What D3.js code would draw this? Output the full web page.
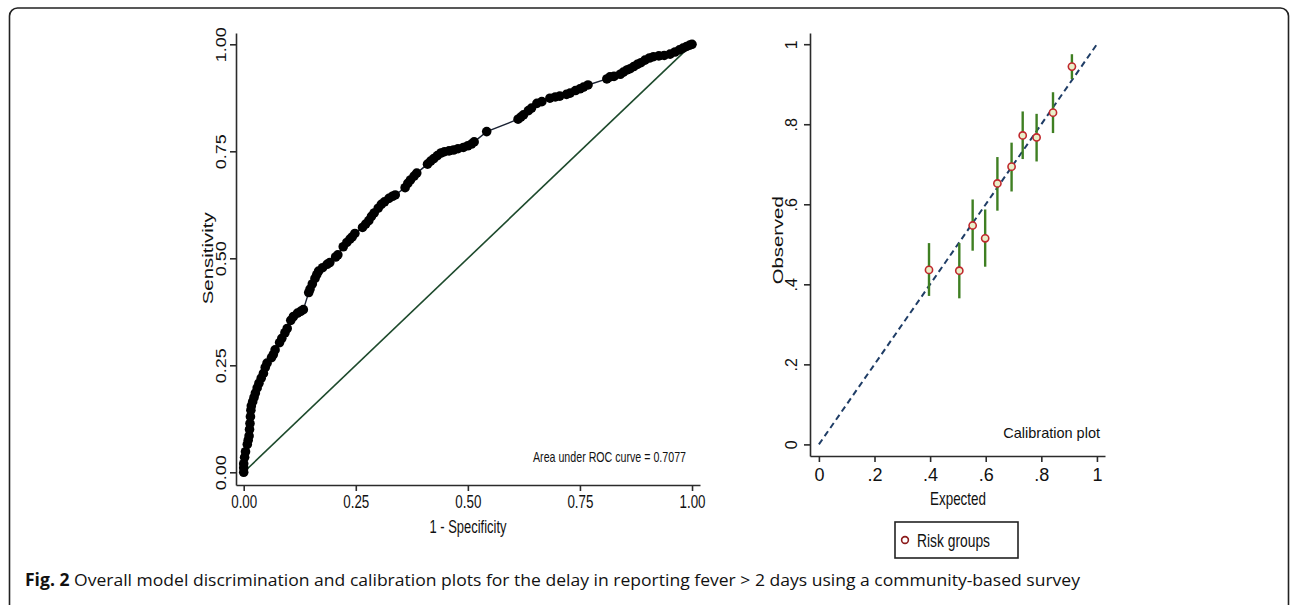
<!DOCTYPE html>
<html>
<head>
    <title>roc-calibration</title>
    <meta charset="utf-8">
    <style type="text/css">
        body { margin: 0; background: #fff; }
        .axis path, .axis line {
            fill: none;
            stroke: #2b2b2b;
            stroke-width: 1.6px;
        }
        .axis text {
            font-family: "Liberation Sans", Arial, sans-serif;
            fill: #111;
        }
        .narrow { font-family: "Liberation Sans", Arial, sans-serif; fill: #111; }
        .wide { font-family: "Liberation Sans", Arial, sans-serif; fill: #111; }
    </style>
</head>
<body>
<script type="text/javascript" src="https://cdn.jsdelivr.net/npm/d3@7"></script>
<script type="text/javascript">
    /*=========DATA=========*/
    // ROC curve points: [1 - specificity, sensitivity]
    var rocFpr = [0, 0, 0, 0.002, 0.004, 0.008, 0.01, 0.012, 0.013, 0.014, 0.015, 0.016, 0.017, 0.02, 0.023,
        0.026, 0.03, 0.034, 0.039, 0.044, 0.048, 0.052, 0.062, 0.066, 0.07, 0.08, 0.085, 0.092, 0.097, 0.105,
        0.111, 0.12, 0.127, 0.133, 0.145, 0.148, 0.153, 0.159, 0.163, 0.167, 0.176, 0.186, 0.192, 0.205, 0.21,
        0.222, 0.23, 0.237, 0.242, 0.248, 0.265, 0.272, 0.279, 0.285, 0.291, 0.3, 0.307, 0.314, 0.324, 0.332,
        0.338, 0.36, 0.366, 0.372, 0.38, 0.386, 0.41, 0.417, 0.424, 0.432, 0.44, 0.448, 0.458, 0.468, 0.478,
        0.49, 0.5, 0.508, 0.514, 0.542, 0.612, 0.618, 0.624, 0.635, 0.642, 0.654, 0.665, 0.683, 0.695, 0.705,
        0.72, 0.728, 0.74, 0.75, 0.758, 0.768, 0.81, 0.817, 0.826, 0.84, 0.847, 0.855, 0.862, 0.87, 0.878,
        0.886, 0.895, 0.905, 0.914, 0.926, 0.938, 0.951, 0.962, 0.972, 0.98, 0.988, 0.995, 1];
    var rocTpr = [0, 0.01, 0.02, 0.035, 0.048, 0.065, 0.075, 0.085, 0.1, 0.114, 0.13, 0.145, 0.155, 0.165, 0.175,
        0.185, 0.197, 0.208, 0.22, 0.231, 0.245, 0.255, 0.268, 0.275, 0.286, 0.303, 0.313, 0.326, 0.336, 0.355,
        0.364, 0.372, 0.376, 0.38, 0.42, 0.428, 0.44, 0.453, 0.462, 0.47, 0.478, 0.486, 0.49, 0.503, 0.508,
        0.527, 0.537, 0.545, 0.55, 0.558, 0.572, 0.58, 0.588, 0.598, 0.606, 0.617, 0.626, 0.632, 0.64, 0.645,
        0.648, 0.665, 0.675, 0.683, 0.692, 0.699, 0.72, 0.727, 0.733, 0.74, 0.746, 0.749, 0.751, 0.753, 0.756,
        0.759, 0.763, 0.767, 0.772, 0.796, 0.825, 0.83, 0.835, 0.845, 0.851, 0.862, 0.866, 0.874, 0.877, 0.879,
        0.883, 0.886, 0.892, 0.896, 0.9, 0.905, 0.919, 0.924, 0.925, 0.93, 0.935, 0.94, 0.943, 0.948, 0.953,
        0.957, 0.963, 0.968, 0.971, 0.973, 0.974, 0.977, 0.982, 0.987, 0.991, 0.995, 0.998, 1];
    var rocTicks = [0, 0.25, 0.5, 0.75, 1];
    var aucText = 'Area under ROC curve = 0.7077';

    // calibration: risk groups
    var calExpected = [0.396, 0.505, 0.553, 0.598, 0.642, 0.693, 0.733, 0.783, 0.842, 0.91];
    var calObserved = [0.436, 0.434, 0.547, 0.515, 0.652, 0.694, 0.772, 0.767, 0.829, 0.944];
    var calLower = [0.371, 0.365, 0.484, 0.444, 0.584, 0.632, 0.713, 0.707, 0.778, 0.913];
    var calUpper = [0.503, 0.503, 0.612, 0.587, 0.718, 0.754, 0.832, 0.826, 0.88, 0.975];
    var calTicks = [0, 0.2, 0.4, 0.6, 0.8, 1];
    var calTickLabels = ['0', '.2', '.4', '.6', '.8', '1'];

    /*=====SIZE SVG======*/
    var svgWidth = 1293;
    var svgHeight = 605;

    var svg = d3.select("body").append("svg").attr("width", svgWidth).attr("height", svgHeight);

    // frame
    svg.append("rect").attr("x", 9.5).attr("y", 8).attr("width", 1279).attr("height", 606)
        .attr("rx", 8).attr("fill", "none").attr("stroke", "#222").attr("stroke-width", 1.6);

    /*=========ROC============*/
    var rx = d3.scaleLinear().domain([-0.0172, 1.0178]).range([236, 700]);
    var ry = d3.scaleLinear().domain([-0.0297, 1.0264]).range([485, 33]);

    var rocAxisX = svg.append("g").attr("class", "axis")
        .attr("transform", "translate(0,485)")
        .call(d3.axisBottom(rx).tickValues(rocTicks).tickFormat(d3.format(".2f")).tickSize(6).tickSizeOuter(0).tickPadding(5));
    rocAxisX.selectAll("text").attr("font-size", 17.5)
        .attr("textLength", 26).attr("lengthAdjust", "spacingAndGlyphs");

    var rocAxisY = svg.append("g").attr("class", "axis")
        .attr("transform", "translate(236,0)")
        .call(d3.axisLeft(ry).tickValues(rocTicks).tickFormat(d3.format(".2f")).tickSize(6).tickSizeOuter(0));
    rocAxisY.selectAll("text")
        .attr("font-size", 15)
        .attr("text-anchor", "middle")
        .attr("x", 0).attr("y", 0).attr("dy", 0)
        .attr("transform", "translate(-10,0) rotate(-90)")
        .attr("textLength", 35).attr("lengthAdjust", "spacingAndGlyphs");

    svg.append("text").attr("class", "narrow").attr("font-size", 18)
        .attr("x", 468).attr("y", 533).attr("text-anchor", "middle")
        .attr("textLength", 77).attr("lengthAdjust", "spacingAndGlyphs")
        .text("1 - Specificity");
    svg.append("text").attr("class", "wide").attr("font-size", 15)
        .attr("text-anchor", "middle")
        .attr("transform", "translate(213," + ry(0.5) + ") rotate(-90)")
        .attr("textLength", 92).attr("lengthAdjust", "spacingAndGlyphs")
        .text("Sensitivity");

    // reference diagonal
    svg.append("line")
        .attr("x1", rx(0)).attr("y1", ry(0)).attr("x2", rx(1)).attr("y2", ry(1))
        .attr("stroke", "#1d4a2c").attr("stroke-width", 1.6);

    var rocPts = rocFpr.map(function (f, i) { return [f, rocTpr[i]]; });
    svg.append("path").datum(rocPts)
        .attr("fill", "none").attr("stroke", "#1a2233").attr("stroke-width", 1.4)
        .attr("d", d3.line().x(function (d) { return rx(d[0]); }).y(function (d) { return ry(d[1]); }));
    svg.append("g").selectAll("circle").data(rocPts).enter().append("circle")
        .attr("cx", function (d) { return rx(d[0]); })
        .attr("cy", function (d) { return ry(d[1]); })
        .attr("r", 4.8).attr("fill", "#000");

    svg.append("text").attr("class", "narrow").attr("font-size", 15)
        .attr("x", 686).attr("y", 462).attr("text-anchor", "end")
        .attr("textLength", 153).attr("lengthAdjust", "spacingAndGlyphs")
        .text(aucText);

    /*=========CALIBRATION============*/
    var cx = d3.scaleLinear().domain([-0.032, 1.029]).range([810, 1105]);
    var cy = d3.scaleLinear().domain([-0.029, 1.028]).range([456, 33]);

    var calAxisX = svg.append("g").attr("class", "axis")
        .attr("transform", "translate(0,456)")
        .call(d3.axisBottom(cx).tickValues(calTicks).tickFormat(function (d, i) { return calTickLabels[i]; })
            .tickSize(6).tickSizeOuter(0).tickPadding(6));
    calAxisX.selectAll("text").attr("font-size", 18);

    var calAxisY = svg.append("g").attr("class", "axis")
        .attr("transform", "translate(810,0)")
        .call(d3.axisLeft(cy).tickValues(calTicks).tickFormat(function (d, i) { return calTickLabels[i]; })
            .tickSize(6).tickSizeOuter(0));
    calAxisY.selectAll("text")
        .attr("font-size", 16)
        .attr("text-anchor", "middle")
        .attr("x", 0).attr("y", 0).attr("dy", 0)
        .attr("transform", "translate(-13,0) rotate(-90)");

    svg.append("text").attr("class", "narrow").attr("font-size", 18.5)
        .attr("x", 958).attr("y", 505).attr("text-anchor", "middle")
        .attr("textLength", 56).attr("lengthAdjust", "spacingAndGlyphs")
        .text("Expected");
    svg.append("text").attr("class", "wide").attr("font-size", 15)
        .attr("text-anchor", "middle")
        .attr("transform", "translate(783," + cy(0.51) + ") rotate(-90)")
        .attr("textLength", 88).attr("lengthAdjust", "spacingAndGlyphs")
        .text("Observed");

    svg.append("text").attr("class", "wide").attr("font-size", 14.5)
        .attr("x", 1100).attr("y", 438).attr("text-anchor", "end").text("Calibration plot");

    // identity line
    svg.append("line")
        .attr("x1", cx(0)).attr("y1", cy(0)).attr("x2", cx(1)).attr("y2", cy(1))
        .attr("stroke", "#1f3d66").attr("stroke-width", 2).attr("stroke-dasharray", "6,4");

    var calPts = calExpected.map(function (e, i) {
        return { e: e, o: calObserved[i], lo: calLower[i], hi: calUpper[i] };
    });
    svg.append("g").selectAll("line").data(calPts).enter().append("line")
        .attr("x1", function (d) { return cx(d.e); }).attr("x2", function (d) { return cx(d.e); })
        .attr("y1", function (d) { return cy(d.lo); }).attr("y2", function (d) { return cy(d.hi); })
        .attr("stroke", "#3f7f22").attr("stroke-width", 2.4);
    svg.append("g").selectAll("circle").data(calPts).enter().append("circle")
        .attr("cx", function (d) { return cx(d.e); })
        .attr("cy", function (d) { return cy(d.o); })
        .attr("r", 3.6).attr("fill", "#e9efc9").attr("stroke", "#c0282d").attr("stroke-width", 1.6);

    // legend
    var legend = svg.append("g");
    legend.append("rect").attr("x", 895).attr("y", 522).attr("width", 123).attr("height", 36)
        .attr("fill", "#fff").attr("stroke", "#222").attr("stroke-width", 1.6);
    legend.append("circle").attr("cx", 905).attr("cy", 540).attr("r", 3.4)
        .attr("fill", "#fff").attr("stroke", "#8b1a1a").attr("stroke-width", 1.6);
    legend.append("text").attr("class", "narrow").attr("font-size", 19)
        .attr("x", 917).attr("y", 547)
        .attr("textLength", 73).attr("lengthAdjust", "spacingAndGlyphs")
        .text("Risk groups");

    /*=========CAPTION============*/
    var cap = svg.append("text")
        .attr("x", 25).attr("y", 586)
        .attr("font-family", "'Open Sans', 'Noto Sans', sans-serif")
        .attr("font-size", 17).attr("fill", "#111")
        .attr("textLength", 1055).attr("lengthAdjust", "spacingAndGlyphs");
    cap.append("tspan").attr("font-weight", "bold").text("Fig. 2");
    cap.append("tspan").text(" Overall model discrimination and calibration plots for the delay in reporting fever > 2 days using a community-based survey");
</script>
</body>
</html>
